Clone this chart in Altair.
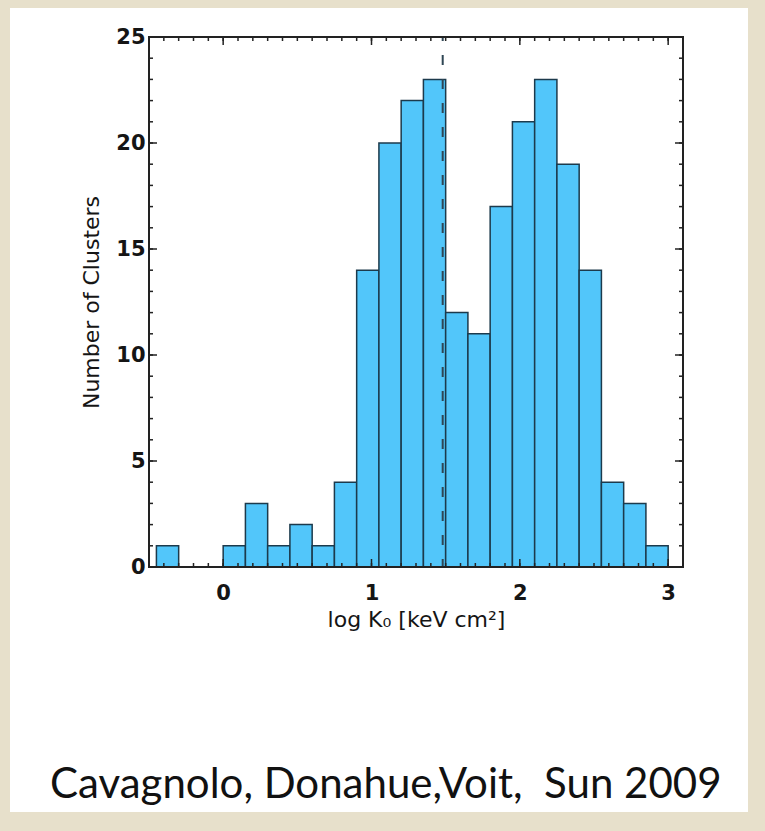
import altair as alt
import pandas as pd

# Histogram of central entropy (log K0) for the cluster sample
bin_lo = [-0.45, -0.30, -0.15, 0.00, 0.15, 0.30, 0.45, 0.60, 0.75, 0.90, 1.05, 1.20,
          1.35, 1.50, 1.65, 1.80, 1.95, 2.10, 2.25, 2.40, 2.55, 2.70, 2.85]
counts = [1, 0, 0, 1, 3, 1, 2, 1, 4, 14, 20, 22, 23, 12, 11, 17, 21, 23, 19, 14, 4, 3, 1]
bin_width = 0.15
threshold = 1.48  # dashed dividing line

x_major = [0, 1, 2, 3]
x_minor = [round(-0.5 + 0.1 * i, 1) for i in range(37)]
y_major = [0, 5, 10, 15, 20, 25]
y_minor = list(range(26))

citation = "Cavagnolo, Donahue,Voit,\u00a0 Sun 2009"

W, H = 534, 530
FONT = "DejaVu Sans"

bars = pd.DataFrame({
    "lo": bin_lo,
    "hi": [round(v + bin_width, 2) for v in bin_lo],
    "n": counts,
})
bars = bars[bars["n"] > 0]

xscale = alt.Scale(domain=[-0.5, 3.1], nice=False, zero=False)
yscale = alt.Scale(domain=[0, 25], nice=False)

one = pd.DataFrame({"a": [0]})

panel = alt.Chart(one).mark_rect(color="white").encode(
    x=alt.value(-139), x2=alt.value(599), y=alt.value(-29), y2=alt.value(775)
)

axis_style = dict(grid=False, ticks=False, tickSize=0, domain=False, format="d",
                  labelFontSize=21, titleFontSize=22, labelFont=FONT, titleFont=FONT,
                  labelFontWeight="bold", labelColor="#151515", titleColor="#151515",
                  titleFontWeight="normal", zindex=1)

hist = alt.Chart(bars).mark_rect(
    fill="#52c6fa", stroke="#1c3a4c", strokeWidth=1.5
).encode(
    x=alt.X("lo:Q", scale=xscale,
            axis=alt.Axis(values=x_major, title="log K₀ [keV cm²]",
                          labelPadding=15, titlePadding=6, **axis_style)),
    x2="hi:Q",
    y=alt.Y("n:Q", scale=yscale,
            axis=alt.Axis(values=y_major, title="Number of Clusters",
                          labelPadding=4, titlePadding=12, **axis_style)),
    y2=alt.datum(0),
)

divider = alt.Chart(pd.DataFrame({"t": [threshold]})).mark_rule(
    color="#2f4655", strokeWidth=2, strokeDash=[10, 14], strokeDashOffset=6
).encode(x=alt.X("t:Q", scale=xscale))

# inward tick marks on all four sides
def xticks(values, length):
    df = pd.DataFrame({"v": values})
    bottom = alt.Chart(df).mark_rule(color="#222", strokeWidth=1.5).encode(
        x=alt.X("v:Q", scale=xscale), y=alt.value(H), y2=alt.value(H - length))
    top = alt.Chart(df).mark_rule(color="#222", strokeWidth=1.5).encode(
        x=alt.X("v:Q", scale=xscale), y=alt.value(0), y2=alt.value(length))
    return bottom + top

def yticks(values, length):
    df = pd.DataFrame({"v": values})
    left = alt.Chart(df).mark_rule(color="#222", strokeWidth=1.5).encode(
        y=alt.Y("v:Q", scale=yscale), x=alt.value(0), x2=alt.value(length))
    right = alt.Chart(df).mark_rule(color="#222", strokeWidth=1.5).encode(
        y=alt.Y("v:Q", scale=yscale), x=alt.value(W), x2=alt.value(W - length))
    return left + right

frame = alt.Chart(one).mark_rect(fill=None, stroke="#222", strokeWidth=2).encode(
    x=alt.value(0), x2=alt.value(W), y=alt.value(0), y2=alt.value(H)
)

caption = alt.Chart(pd.DataFrame({"c": [citation]})).mark_text(
    font="Lato", fontSize=42, align="left", baseline="alphabetic", color="#111"
).encode(text="c:N", x=alt.value(-99), y=alt.value(761))

chart = alt.layer(
    panel, hist, divider,
    xticks(x_minor, 4), xticks(x_major, 8),
    yticks(y_minor, 4), yticks(y_major, 8),
    frame, caption,
).properties(
    width=W, height=H,
    background="#e7e0cb",
    padding={"left": 149, "top": 37, "right": 82, "bottom": 264},
    autosize=alt.AutoSizeParams(type="none"),
).configure_view(stroke=None)

chart.save("out.html", embed_options={"renderer": "svg", "actions": False})
